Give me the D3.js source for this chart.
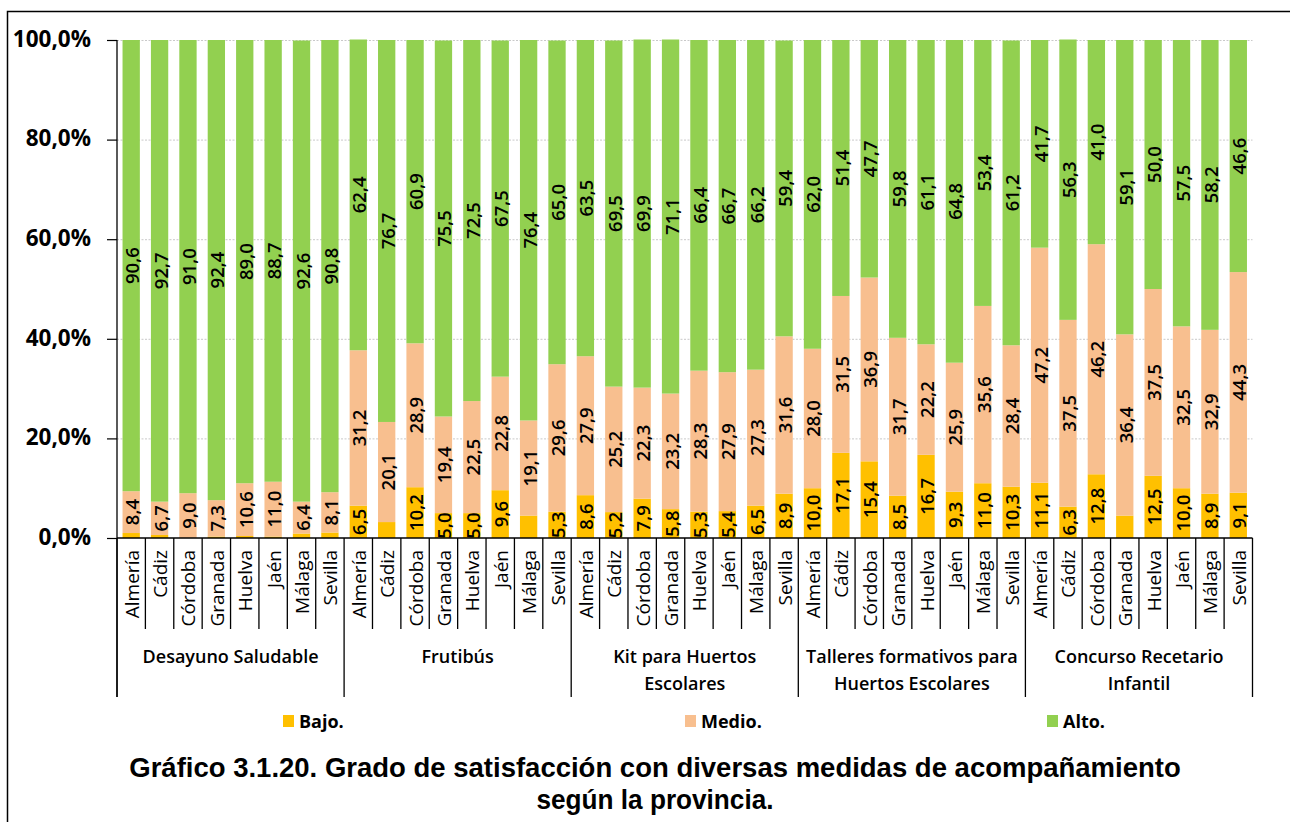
<!DOCTYPE html>
<html><head><meta charset="utf-8">
<script src="https://cdn.jsdelivr.net/npm/d3@7"></script>
<style>
body{margin:0;background:#fff}
svg text{fill:#000}
</style>
</head><body>
<svg id="chart" width="1290" height="822" font-family="'Open Sans','DejaVu Sans',sans-serif"></svg>
<script>
// ---------- data ----------
const groupLines = [
  ["Desayuno Saludable"],
  ["Frutibús"],
  ["Kit para Huertos", "Escolares"],
  ["Talleres formativos para", "Huertos Escolares"],
  ["Concurso Recetario", "Infantil"]
];
const provinces = ["Almería","Cádiz","Córdoba","Granada","Huelva","Jaén","Málaga","Sevilla"];
const seriesNames = ["Bajo.","Medio.","Alto."];
const seriesColors = ["#FFC000","#F8BF8F","#92D050"];
const bajo = [1.0,0.6,0.0,0.3,0.4,0.3,0.9,1.1,
  6.5,3.2,10.2,5.0,5.0,9.6,4.5,5.3,
  8.6,5.2,7.9,5.8,5.3,5.4,6.5,8.9,
  10.0,17.1,15.4,8.5,16.7,9.3,11.0,10.3,
  11.1,6.3,12.8,4.5,12.5,10.0,8.9,9.1];
const medio = [8.4,6.7,9.0,7.3,10.6,11.0,6.4,8.1,
  31.2,20.1,28.9,19.4,22.5,22.8,19.1,29.6,
  27.9,25.2,22.3,23.2,28.3,27.9,27.3,31.6,
  28.0,31.5,36.9,31.7,22.2,25.9,35.6,28.4,
  47.2,37.5,46.2,36.4,37.5,32.5,32.9,44.3];
const alto = [90.6,92.7,91.0,92.4,89.0,88.7,92.6,90.8,
  62.4,76.7,60.9,75.5,72.5,67.5,76.4,65.0,
  63.5,69.5,69.9,71.1,66.4,66.7,66.2,59.4,
  62.0,51.4,47.7,59.8,61.1,64.8,53.4,61.2,
  41.7,56.3,41.0,59.1,50.0,57.5,58.2,46.6];
const yTicks = [0,20,40,60,80,100];
const labelThreshold = 5; // smaller segments carry no label in the original
const titleLines = ["Gráfico 3.1.20. Grado de satisfacción con diversas medidas de acompañamiento",
                    "según la provincia."];

// ---------- build table ----------
const nG = groupLines.length, nP = provinces.length, N = nG * nP;
const table = d3.range(N).map(i => ({
  i, group: Math.floor(i / nP), prov: provinces[i % nP],
  "Bajo.": bajo[i], "Medio.": medio[i], "Alto.": alto[i]
}));

const svg = d3.select("#chart");
svg.append("rect").attr("width",1290).attr("height",822).attr("fill","#fff");
// frame
svg.append("path").attr("d","M7.5,822V11.5H1290").attr("fill","none").attr("stroke","#000").attr("stroke-width",1.5);

const L = 117, R = 1252.5, T = 40, B = 538;
const x = d3.scaleBand().domain(d3.range(N)).range([L, R]).paddingInner(0.39).paddingOuter(0.195);
const y = d3.scaleLinear().domain([0,100]).range([B, T]);
const step = x.step(), bw = x.bandwidth();
const fmt = v => d3.format(".1f")(v).replace(".", ",");

// gridlines
svg.append("g").selectAll("line").data(yTicks.filter(d => d > 0)).join("line")
  .attr("x1", L).attr("x2", R).attr("y1", d => y(d) + 0.5).attr("y2", d => y(d) + 0.5)
  .attr("stroke", "#c9c9c9").attr("stroke-width", 1).attr("stroke-dasharray", "2,1.5");

// bars
const stack = d3.stack().keys(seriesNames)(table);
const color = d3.scaleOrdinal().domain(seriesNames).range(seriesColors);
const gBars = svg.append("g");
gBars.selectAll("g").data(stack).join("g").attr("fill", s => color(s.key))
  .selectAll("rect").data(s => s).join("rect")
  .attr("x", d => x(d.data.i)).attr("width", bw)
  .attr("y", d => y(d[1])).attr("height", d => Math.max(0, y(d[0]) - y(d[1])));

// data labels
const gLab = svg.append("g");
stack.forEach(s => {
  s.forEach(d => {
    const v = d.data[s.key];
    if (v < labelThreshold) return;
    const cx = x(d.data.i) + bw / 2, cy = y((d[0] + d[1]) / 2);
    gLab.append("text")
      .attr("transform", `translate(${cx + 0.5},${cy}) rotate(-90)`)
      .attr("text-anchor", "middle").attr("dominant-baseline", "central")
      .attr("font-size", 18.5).attr("font-weight", 600)
      .text(fmt(v));
  });
});

// y axis
const yAxis = d3.axisLeft(y).tickValues(yTicks).tickSize(10).tickPadding(16)
  .tickFormat(d => fmt(d) + "%");
const gy = svg.append("g").attr("transform", `translate(${L},0)`).call(yAxis);
gy.attr("font-family", null).attr("font-size", null);
gy.select(".domain").remove();
gy.selectAll(".tick line").attr("stroke", "#000").attr("stroke-width", 1.2);
gy.selectAll(".tick text").attr("font-size", 22.5).attr("font-weight", 700)
  .style("font-family", "'Open Sans',sans-serif").attr("fill", "#000").attr("dy", "0.28em");

// axis lines
svg.append("line").attr("x1", L).attr("x2", L).attr("y1", T).attr("y2", 697).attr("stroke", "#000").attr("stroke-width", 1.3);
svg.append("line").attr("x1", L).attr("x2", R).attr("y1", B).attr("y2", B).attr("stroke", "#000").attr("stroke-width", 1.3);

// category dividers & group dividers
const divs = d3.range(N + 1);
svg.append("g").selectAll("line").data(divs).join("line")
  .attr("x1", i => L + i * step).attr("x2", i => L + i * step)
  .attr("y1", B).attr("y2", i => (i % nP === 0) ? 697 : 629)
  .attr("stroke", "#000").attr("stroke-width", 1.3);

// category labels
svg.append("g").selectAll("text").data(table).join("text")
  .attr("transform", d => `translate(${x(d.i) + bw / 2 + 0.5},550) rotate(-90)`)
  .attr("text-anchor", "end").attr("dominant-baseline", "central")
  .attr("font-size", 19)
  .text(d => d.prov);

// group labels
const gG = svg.append("g");
groupLines.forEach((lines, g) => {
  const cx = L + (g * nP + nP / 2) * step;
  lines.forEach((ln, k) => {
    gG.append("text").attr("x", cx).attr("y", 663 + k * 27)
      .attr("text-anchor", "middle").attr("font-size", 18).attr("font-weight", 600)
      .text(ln);
  });
});

// legend
const legendX = [283, 685, 1047];
const gL = svg.append("g");
seriesNames.forEach((s, k) => {
  gL.append("rect").attr("x", legendX[k]).attr("y", 715).attr("width", 11).attr("height", 12).attr("fill", color(s));
  gL.append("text").attr("x", legendX[k] + 16).attr("y", 727.5)
    .attr("font-size", 18).attr("font-weight", 700).text(s);
});

// title
const titleW = [1052, 237];
titleLines.forEach((t, k) => {
  const el = svg.append("text").attr("x", 655).attr("y", 777 + k * 32)
    .attr("text-anchor", "middle").attr("font-size", 27.5).attr("font-weight", 700)
    .style("font-family", "'Liberation Sans Narrow','Liberation Sans',Arial,sans-serif").text(t);
  const w = el.node().getComputedTextLength();
  if (Math.abs(w - titleW[k]) > 4) {
    el.attr("textLength", titleW[k]).attr("lengthAdjust", "spacingAndGlyphs");
  }
});
</script>
</body></html>
